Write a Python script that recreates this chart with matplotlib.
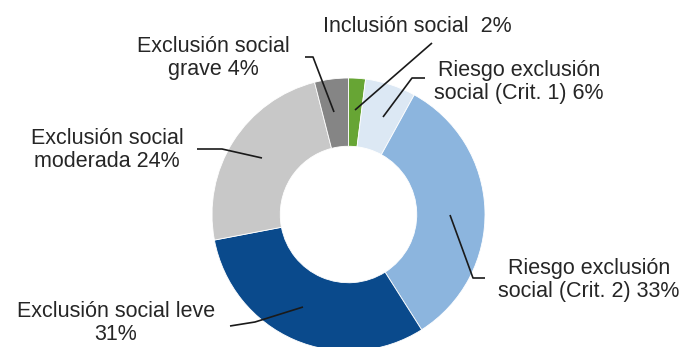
import matplotlib
matplotlib.use("Agg")
import matplotlib.pyplot as plt

# Distribution of households by social integration level
categories = [
    "Inclusión social",
    "Riesgo exclusión social (Crit. 1)",
    "Riesgo exclusión social (Crit. 2)",
    "Exclusión social leve",
    "Exclusión social moderada",
    "Exclusión social grave",
]
values = [2, 6, 33, 31, 24, 4]
labels = [
    "Inclusión social  2%",
    "Riesgo exclusión\nsocial (Crit. 1) 6%",
    "Riesgo exclusión\nsocial (Crit. 2) 33%",
    "Exclusión social leve\n31%",
    "Exclusión social\nmoderada 24%",
    "Exclusión social\ngrave 4%",
]
colors = ["#67a534", "#dce8f4", "#8cb5de", "#0a4a8c", "#c8c8c8", "#858585"]

W, H = 686, 347
fig = plt.figure(figsize=(W / 100, H / 100), dpi=100)
ax = fig.add_axes([0, 0, 1, 1])


def py(y):
    # convert top-down pixel row to axis y
    return H - y


cx, cy, r = 348.5, py(214.5), 136.5
ax.pie(values, colors=colors, startangle=90, counterclock=False,
       center=(cx, cy), radius=r,
       wedgeprops=dict(width=r * 0.5, edgecolor="white", linewidth=0.6),
       frame=True)
ax.set_xlim(0, W)
ax.set_ylim(0, H)
ax.set_aspect("equal")
ax.axis("off")

# label placement (text centre) and leader polylines, in pixel rows from top
label_pos = [
    (417, 26),
    (519, 82),
    (589, 280),
    (116, 323),
    (107, 150),
    (213, 58),
]
leaders = [
    [(432, 43), (355, 110)],
    [(425, 78), (412, 78), (383, 117)],
    [(485, 278), (473, 278), (450, 215)],
    [(230, 326), (255, 322), (303, 307)],
    [(197, 149), (222, 149), (262, 158)],
    [(305, 57), (313, 57), (334, 112)],
]

for text, (tx, ty), pts in zip(labels, label_pos, leaders):
    ax.text(tx, py(ty), text, ha="center", va="center",
            fontsize=15.5, family="Liberation Sans", color="#262626",
            linespacing=1.12)
    xs = [p[0] for p in pts]
    ys = [py(p[1]) for p in pts]
    ax.plot(xs, ys, color="#1a1a1a", linewidth=1.2, solid_capstyle="butt")

fig.savefig("out.png", dpi=100)
